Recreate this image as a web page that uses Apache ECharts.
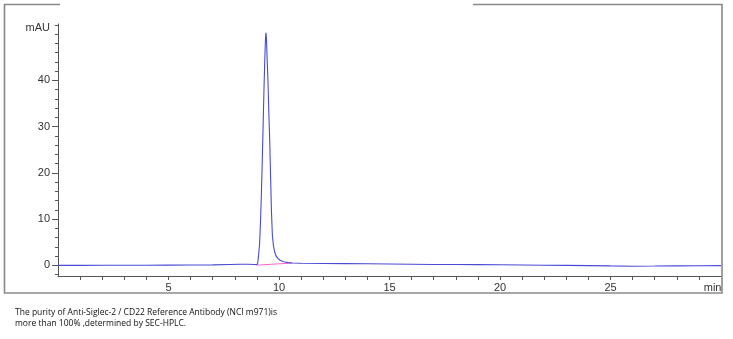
<!DOCTYPE html>
<html>
<head>
<meta charset="utf-8">
<script src="https://cdn.jsdelivr.net/npm/echarts@6/dist/echarts.min.js"></script>
<style>
html,body{margin:0;padding:0;background:#fff;}
#c{width:733px;height:339px;}
</style>
</head>
<body>
<div id="c"></div>
<script>
// Chromatogram (time in min, signal in mAU)
const times = [0, 1, 2, 3, 4, 5, 6, 7, 7.8, 8.2, 8.6, 8.9, 9.0, 9.04, 9.08, 9.12, 9.16, 9.2, 9.24, 9.28, 9.32, 9.36, 9.39, 9.41, 9.43, 9.46, 9.5, 9.54, 9.58, 9.62, 9.66, 9.7, 9.75, 9.8, 9.86, 9.95, 10.05, 10.2, 10.4, 10.6, 11, 12, 13, 14, 15, 16, 17, 18, 19, 20, 21, 22, 23, 24, 25, 26, 27, 28, 29, 30];
const signal = [0, 0, 0.02, 0.02, 0.03, 0.05, 0.08, 0.1, 0.2, 0.25, 0.25, 0.2, 0.15, 0.6, 2.4, 4.5, 9, 15, 22, 30, 38, 45, 49.2, 50.3, 49.2, 45, 40, 33, 27, 19, 11.5, 6.5, 4.2, 3, 2.1, 1.5, 1.1, 0.8, 0.6, 0.5, 0.45, 0.4, 0.38, 0.35, 0.3, 0.25, 0.2, 0.18, 0.15, 0.12, 0.08, 0.03, 0, -0.05, -0.12, -0.18, -0.15, -0.1, -0.08, -0.05];
// Integration baseline of the main peak
const baseTimes = [9.0, 10.6];
const baseSignal = [0.05, 0.5];
// Axis labels
const xLabelValues = [5, 10, 15, 20, 25];
const xUnit = 'min';
const yLabelValues = [0, 10, 20, 30, 40];
const yUnit = 'mAU';
const caption = ['The purity of Anti-Siglec-2 / CD22 Reference Antibody (NCI m971)is', 'more than 100% ,determined by SEC-HPLC.'];

const Y_MIN = -2.3, Y_MAX = 52.2, X_MIN = 0, X_MAX = 30;
const yMinorTicks = [];
for (let v = -2; v <= 52; v += 2) yMinorTicks.push(v);
const xTicks = [];
for (let v = 1; v <= 29; v += 1) xTicks.push(v);

const mainData = times.map((t, i) => [t, signal[i]]);
const baseData = baseTimes.map((t, i) => [t, baseSignal[i]]);

const axisColor = '#555';
const labelStyle = { color: '#333', fontSize: 11, fontFamily: 'Liberation Sans, Arial, sans-serif' };

const chart = echarts.init(document.getElementById('c'), null, { renderer: 'canvas' });
chart.setOption({
  animation: false,
  backgroundColor: '#fff',
  grid: { left: 58, right: 12, top: 24, bottom: 63, containLabel: false },
  xAxis: [{
    type: 'value', min: X_MIN, max: X_MAX,
    axisLine: { show: true, onZero: false, lineStyle: { color: axisColor, width: 1 } },
    axisTick: { show: true, length: 4, customValues: xTicks, lineStyle: { color: axisColor } },
    axisLabel: {
      show: true, margin: 6, ...labelStyle,
      customValues: xLabelValues.concat([29.62]),
      formatter: v => (v > 29 ? xUnit : String(v))
    },
    splitLine: { show: false }
  }],
  yAxis: [{
    type: 'value', min: Y_MIN, max: Y_MAX,
    axisLine: { show: true, onZero: false, lineStyle: { color: axisColor, width: 1 } },
    axisTick: { show: true, length: 6, customValues: yLabelValues, lineStyle: { color: axisColor } },
    axisLabel: {
      show: true, margin: 8, ...labelStyle,
      customValues: yLabelValues.concat([51.4]),
      formatter: v => (v > 50 ? yUnit : String(v))
    },
    splitLine: { show: false }
  }, {
    type: 'value', min: Y_MIN, max: Y_MAX, position: 'left',
    axisLine: { show: false },
    axisTick: { show: true, length: 3, customValues: yMinorTicks, lineStyle: { color: axisColor } },
    axisLabel: { show: false },
    splitLine: { show: false }
  }],
  series: [{
    type: 'line', data: baseData, yAxisIndex: 0, symbol: 'none', silent: true,
    lineStyle: { color: '#ff66cc', width: 1 }, z: 2
  }, {
    type: 'line', data: mainData, yAxisIndex: 0, symbol: 'none', silent: true,
    lineStyle: { color: '#4a4ad6', width: 1.1 }, z: 3
  }],
  graphic: [{
    type: 'polyline', silent: true,
    shape: { points: [[60, 4.5], [4.5, 4.5], [4.5, 293], [722, 293], [722, 4.5], [473, 4.5]] },
    style: { stroke: '#8a8a8a', lineWidth: 1.6, fill: null }
  }, {
    type: 'text', left: 15, top: 308, silent: true,
    style: { text: caption[0], fill: '#111', font: '8.5px "Open Sans", "Noto Sans", sans-serif' }
  }, {
    type: 'text', left: 15, top: 319, silent: true,
    style: { text: caption[1], fill: '#111', font: '8.5px "Open Sans", "Noto Sans", sans-serif' }
  }]
});
</script>
</body>
</html>
